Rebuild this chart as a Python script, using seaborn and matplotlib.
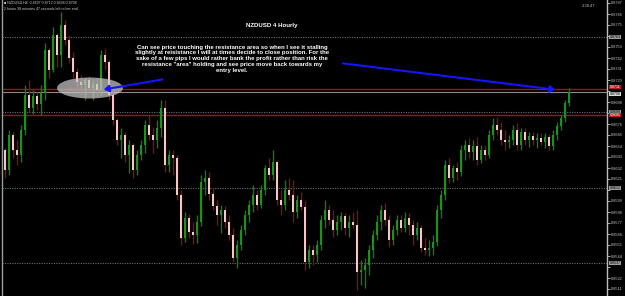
import numpy as np
import pandas as pd
import matplotlib
matplotlib.use("Agg")
import matplotlib.pyplot as plt
import seaborn as sns
from matplotlib.patches import Ellipse, FancyArrowPatch
import matplotlib.transforms as mtransforms

# ---------------- data (NZDUSD, H4 candles) ----------------
opens = [0.8650, 0.8630, 0.8665, 0.8650, 0.8645, 0.8670, 0.8705, 0.8692, 0.8704, 0.8696,
         0.8708, 0.8750, 0.8730, 0.8765, 0.8745, 0.8775, 0.8760, 0.8742, 0.8728, 0.8718,
         0.8715, 0.8720, 0.8712, 0.8716, 0.8710, 0.8745, 0.8738, 0.8705, 0.8680, 0.8660,
         0.8665, 0.8645, 0.8655, 0.8630, 0.8645, 0.8655, 0.8675, 0.8665, 0.8660, 0.8672,
         0.8692, 0.8635, 0.8645, 0.8642, 0.8605, 0.8562, 0.8582, 0.8568, 0.8565, 0.8578,
         0.8618, 0.8622, 0.8606, 0.8594, 0.8585, 0.8590, 0.8578, 0.8565, 0.8542, 0.8555,
         0.8570, 0.8585, 0.8595, 0.8605, 0.8595, 0.8610, 0.8632, 0.8625, 0.8638, 0.8600,
         0.8595, 0.8610, 0.8605, 0.8588, 0.8600, 0.8593, 0.8538, 0.8550, 0.8545, 0.8555,
         0.8580, 0.8590, 0.8580, 0.8570, 0.8578, 0.8584, 0.8572, 0.8578, 0.8575, 0.8528,
         0.8530, 0.8535, 0.8550, 0.8565, 0.8578, 0.8590, 0.8580, 0.8560, 0.8570, 0.8580,
         0.8572, 0.8582, 0.8575, 0.8565, 0.8572, 0.8552, 0.8550, 0.8552, 0.8558, 0.8590,
         0.8605, 0.8635, 0.8622, 0.8632, 0.8628, 0.8650, 0.8655, 0.8648, 0.8654, 0.8640,
         0.8650, 0.8645, 0.8665, 0.8675, 0.8670, 0.8660, 0.8658, 0.8660, 0.8670, 0.8655,
         0.8668, 0.8660, 0.8664, 0.8660, 0.8662, 0.8658, 0.8663, 0.8654, 0.8665, 0.8674,
         0.8682, 0.8697]
highs = [0.8652, 0.8670, 0.8668, 0.8660, 0.8675, 0.8715, 0.8720, 0.8710, 0.8708, 0.8715,
         0.8757, 0.8752, 0.8773, 0.8767, 0.8788, 0.8780, 0.8765, 0.8748, 0.8732, 0.8725,
         0.8722, 0.8724, 0.8720, 0.8722, 0.8750, 0.8752, 0.8740, 0.8710, 0.8682, 0.8672,
         0.8668, 0.8660, 0.8657, 0.8650, 0.8660, 0.8680, 0.8685, 0.8673, 0.8680, 0.8700,
         0.8700, 0.8650, 0.8650, 0.8645, 0.8610, 0.8588, 0.8586, 0.8578, 0.8585, 0.8625,
         0.8630, 0.8628, 0.8612, 0.8600, 0.8595, 0.8594, 0.8585, 0.8572, 0.8560, 0.8575,
         0.8590, 0.8600, 0.8615, 0.8610, 0.8615, 0.8635, 0.8642, 0.8650, 0.8640, 0.8610,
         0.8620, 0.8622, 0.8620, 0.8605, 0.8608, 0.8600, 0.8555, 0.8555, 0.8560, 0.8585,
         0.8600, 0.8595, 0.8590, 0.8585, 0.8588, 0.8587, 0.8585, 0.8588, 0.8590, 0.8540,
         0.8542, 0.8555, 0.8570, 0.8585, 0.8595, 0.8597, 0.8585, 0.8575, 0.8585, 0.8585,
         0.8588, 0.8587, 0.8580, 0.8578, 0.8575, 0.8562, 0.8560, 0.8565, 0.8595, 0.8610,
         0.8640, 0.8642, 0.8635, 0.8638, 0.8655, 0.8660, 0.8662, 0.8660, 0.8663, 0.8655,
         0.8655, 0.8670, 0.8682, 0.8683, 0.8678, 0.8670, 0.8665, 0.8675, 0.8677, 0.8672,
         0.8672, 0.8668, 0.8668, 0.8667, 0.8667, 0.8667, 0.8666, 0.8670, 0.8678, 0.8685,
         0.8700, 0.8712]
lows = [0.8622, 0.8625, 0.8642, 0.8635, 0.8638, 0.8665, 0.8688, 0.8686, 0.8690, 0.8685,
        0.8700, 0.8722, 0.8728, 0.8733, 0.8733, 0.8755, 0.8737, 0.8722, 0.8712, 0.8705,
        0.8700, 0.8708, 0.8700, 0.8704, 0.8705, 0.8730, 0.8700, 0.8675, 0.8655, 0.8642,
        0.8638, 0.8627, 0.8622, 0.8625, 0.8640, 0.8647, 0.8660, 0.8647, 0.8652, 0.8663,
        0.8628, 0.8628, 0.8625, 0.8600, 0.8555, 0.8558, 0.8562, 0.8556, 0.8557, 0.8574,
        0.8605, 0.8600, 0.8590, 0.8575, 0.8567, 0.8572, 0.8560, 0.8538, 0.8532, 0.8550,
        0.8565, 0.8578, 0.8588, 0.8590, 0.8592, 0.8605, 0.8620, 0.8620, 0.8595, 0.8585,
        0.8590, 0.8600, 0.8578, 0.8582, 0.8590, 0.8530, 0.8532, 0.8535, 0.8538, 0.8550,
        0.8572, 0.8575, 0.8563, 0.8565, 0.8570, 0.8565, 0.8563, 0.8572, 0.8510, 0.8515,
        0.8512, 0.8525, 0.8542, 0.8560, 0.8570, 0.8575, 0.8553, 0.8555, 0.8565, 0.8568,
        0.8568, 0.8565, 0.8555, 0.8560, 0.8548, 0.8545, 0.8544, 0.8545, 0.8554, 0.8582,
        0.8600, 0.8617, 0.8618, 0.8620, 0.8624, 0.8640, 0.8642, 0.8640, 0.8635, 0.8637,
        0.8640, 0.8642, 0.8660, 0.8665, 0.8655, 0.8650, 0.8652, 0.8655, 0.8650, 0.8650,
        0.8655, 0.8653, 0.8655, 0.8652, 0.8655, 0.8652, 0.8650, 0.8650, 0.8660, 0.8670,
        0.8678, 0.8694]
closes = [0.8630, 0.8665, 0.8650, 0.8645, 0.8670, 0.8705, 0.8692, 0.8704, 0.8696, 0.8708,
          0.8750, 0.8730, 0.8765, 0.8745, 0.8775, 0.8760, 0.8742, 0.8728, 0.8718, 0.8715,
          0.8720, 0.8712, 0.8716, 0.8710, 0.8745, 0.8738, 0.8705, 0.8680, 0.8660, 0.8665,
          0.8645, 0.8655, 0.8630, 0.8645, 0.8655, 0.8675, 0.8665, 0.8660, 0.8672, 0.8692,
          0.8635, 0.8645, 0.8642, 0.8605, 0.8562, 0.8582, 0.8568, 0.8565, 0.8578, 0.8618,
          0.8622, 0.8606, 0.8594, 0.8585, 0.8590, 0.8578, 0.8565, 0.8542, 0.8555, 0.8570,
          0.8585, 0.8595, 0.8605, 0.8595, 0.8610, 0.8632, 0.8625, 0.8638, 0.8600, 0.8595,
          0.8610, 0.8605, 0.8588, 0.8600, 0.8593, 0.8538, 0.8550, 0.8545, 0.8555, 0.8580,
          0.8590, 0.8580, 0.8570, 0.8578, 0.8584, 0.8572, 0.8578, 0.8575, 0.8528, 0.8530,
          0.8535, 0.8550, 0.8565, 0.8578, 0.8590, 0.8580, 0.8560, 0.8570, 0.8580, 0.8572,
          0.8582, 0.8575, 0.8565, 0.8572, 0.8552, 0.8550, 0.8552, 0.8558, 0.8590, 0.8605,
          0.8635, 0.8622, 0.8632, 0.8628, 0.8650, 0.8655, 0.8648, 0.8654, 0.8640, 0.8650,
          0.8645, 0.8665, 0.8675, 0.8670, 0.8660, 0.8658, 0.8660, 0.8670, 0.8655, 0.8668,
          0.8660, 0.8664, 0.8660, 0.8662, 0.8658, 0.8663, 0.8654, 0.8665, 0.8674, 0.8682,
          0.8697, 0.8708]

grid_levels = [0.8763, 0.8688, 0.8612, 0.8537]      # dotted horizontal lines
resistance_levels = [0.8711, 0.8685]                # red lines
bid_price = 0.8708
axis_ticks = [0.8797 - 0.0011 * k for k in range(27)]

title = "NZDUSD 4 Hourly"
note = ("Can see price touching the resistance area so when I see it stalling\n"
        "slightly at reisistance I will at times decide to close position. For the\n"
        "sake of a few pips I would rather bank the profit rather than risk the\n"
        "resistance \"area\" holding and see price move back towards my\n"
        "entry level.")
info1 = "\u25a0 NZDUSD,H4  0.8697 0.8712 0.8694 0.8708"
info2 = "2 hours 38 minutes 47 seconds left to bar end"
timer = "2:38:47"

# ---------------- styling ----------------
sns.set_theme(style="dark", rc={"axes.facecolor": "black", "figure.facecolor": "black",
                                "axes.grid": False})
plt.rcParams["font.family"] = ["Liberation Sans", "DejaVu Sans"]

W, H = 625, 296
fig = plt.figure(figsize=(W / 100, H / 100), dpi=100, facecolor="black")
ax = fig.add_axes([2 / W, 0, 605 / W, 1])
ax.set_facecolor("black")

df = pd.DataFrame({"open": opens, "high": highs, "low": lows, "close": closes})
df["idx"] = np.arange(len(df))
df["bull"] = df["close"] >= df["open"]

bull_c, bull_w = "#1f8f1f", "#157a15"
bear_body, bear_w = "#f2c8c8", "#7d1212"

b = df[df.bull]
r = df[~df.bull]
ax.vlines(b.idx, b.low, b.high, color=bull_w, lw=1.0, zorder=2)
ax.vlines(r.idx, r.low, r.high, color=bear_w, lw=1.0, zorder=2)
body_h = (df.close - df.open).abs().clip(lower=0.00008)
body_b = df[["open", "close"]].min(axis=1)
ax.bar(df.idx[df.bull], body_h[df.bull], bottom=body_b[df.bull], width=0.55,
       color=bull_c, edgecolor=bull_c, lw=0, zorder=3)
ax.bar(df.idx[~df.bull], body_h[~df.bull], bottom=body_b[~df.bull], width=0.55,
       color=bear_body, edgecolor=bear_body, lw=0, zorder=3)

for lv in grid_levels:
    ax.axhline(lv, color="#6e6e6e", lw=0.8, ls=(0, (1, 1.2)), zorder=1)
for lv in resistance_levels:
    ax.axhline(lv, color="#8c1c1c", lw=1.0, zorder=1)
ax.axhline(bid_price, color="#8a8a8a", lw=0.8, zorder=1)

ax.set_xlim(-0.75, 150.5)
ax.set_ylim(0.8504, 0.8800)

ax.add_patch(Ellipse((21.25, 0.8712), 16.5, 0.0021, facecolor="#c8c8c8",
                     edgecolor="none", alpha=0.72, zorder=4))

for (x0, y0), (x1, y1) in [((40.0, 0.8721), (24.0, 0.8710)),
                           ((83.75, 0.8737), (138.25, 0.8710))]:
    ax.add_patch(FancyArrowPatch((x0, y0), (x1, y1), arrowstyle="-|>,head_length=3,head_width=2",
                                 color="#1414ff", lw=1.5, zorder=6))

fig.text(272 / W, 1 - 25 / H, title, color="white", fontsize=4.4, fontweight="bold",
         ha="center", va="center")
fig.text(232 / W, 1 - 44.5 / H, note, color="white", fontsize=4.3, fontweight="bold",
         ha="center", va="top", multialignment="center", linespacing=1.2)
fig.text(4 / W, 1 - 3 / H, info1, color="#cfcfcf", fontsize=2.6, ha="left", va="center")
fig.text(4 / W, 1 - 9 / H, info2, color="#cfcfcf", fontsize=2.6, ha="left", va="center")
fig.text(595 / W, 1 - 6 / H, timer, color="#bdbdbd", fontsize=3.0, ha="right", va="center")

for s in ["top", "bottom"]:
    ax.spines[s].set_visible(False)
ax.spines["left"].set_color("#9a9a9a")
ax.spines["left"].set_linewidth(1.0)
ax.spines["right"].set_color("#bcbcbc")
ax.spines["right"].set_linewidth(1.0)
ax.set_xticks([])
ax.yaxis.tick_right()

highlight = grid_levels + resistance_levels + [bid_price]
shown = [t for t in axis_ticks if min(abs(t - h) for h in highlight) > 0.0006]
ax.set_yticks(axis_ticks)
ax.set_yticklabels([f"{t:.4f}" if t in shown else "" for t in axis_ticks])
ax.tick_params(axis="y", colors="#c8c8c8", labelsize=2.8, length=2, width=0.6, pad=1,
               labelcolor="#c8c8c8", right=True, left=False)

trans = mtransforms.blended_transform_factory(ax.transAxes, ax.transData)
labels = [(lv, "#9c9c9c", "black", "center") for lv in grid_levels] + \
         [(resistance_levels[0], "#c41414", "white", "bottom"),
          (resistance_levels[1], "#c41414", "white", "center"),
          (bid_price, "#d8d8d8", "black", "top")]
for lv, bg, fg, va in labels:
    ax.text(1.004, lv, f"{lv:.4f}", transform=trans, fontsize=2.6, color=fg,
            ha="left", va=va, clip_on=False, zorder=10,
            bbox=dict(boxstyle="square,pad=0.1", facecolor=bg, edgecolor="none"))

fig.savefig("out.png", dpi=100, facecolor="black")
